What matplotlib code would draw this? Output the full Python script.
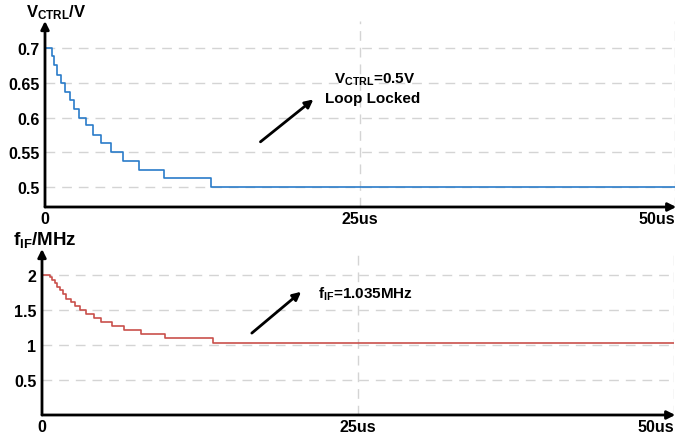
import numpy as np
import matplotlib.pyplot as plt

plt.rcParams['font.family'] = ['Liberation Sans', 'DejaVu Sans']
plt.rcParams['font.weight'] = 'bold'
plt.rcParams['mathtext.fontset'] = 'custom'
plt.rcParams['mathtext.rm'] = 'Liberation Sans:bold'
plt.rcParams['mathtext.bf'] = 'Liberation Sans:bold'

# V_CTRL staircase [us, V]
t_v = [0, 0.53, 0.71, 0.95, 1.27, 1.59, 1.96, 2.33, 2.72, 3.25, 3.84, 4.44,
       5.24, 6.19, 7.46, 9.44, 13.2, 50]
v_ctrl = [0.7, 0.6885, 0.675, 0.6615, 0.65, 0.637, 0.625, 0.612, 0.6, 0.5885,
          0.5755, 0.563, 0.55, 0.538, 0.525, 0.513, 0.5, 0.5]

# f_IF staircase [us, MHz]
t_f = [0, 0.61, 0.79, 1.0, 1.19, 1.40, 1.66, 1.93, 2.27, 2.59, 2.98, 3.51,
       4.12, 4.70, 5.54, 6.46, 7.86, 9.76, 13.56, 50]
f_if = [2.0, 1.967, 1.924, 1.886, 1.824, 1.781, 1.724, 1.662, 1.614, 1.557,
        1.495, 1.443, 1.386, 1.329, 1.267, 1.210, 1.157, 1.1, 1.035, 1.035]

xticks = [0, 25, 50]
xlabels = ['0', '25us', '50us']
v_ticks = [0.5, 0.55, 0.6, 0.65, 0.7]
v_labels = ['0.5', '0.55', '0.6', '0.65', '0.7']
f_ticks = [0.5, 1, 1.5, 2]
f_labels = ['0.5', '1', '1.5', '2']

W, H = 678, 439
fig = plt.figure(figsize=(W / 100, H / 100), dpi=100)


def px_axes(l, r, t, b):
    return fig.add_axes([l / W, (H - b) / H, (r - l) / W, (b - t) / H])


grid_kw = dict(color='#d4d4d4', lw=1.0, dashes=(7, 5))


def style(ax, yt, yl):
    for s in ax.spines.values():
        s.set_visible(False)
    ax.set_xticks(xticks)
    ax.set_xticklabels(xlabels)
    ax.get_xticklabels()[-1].set_horizontalalignment('right')
    ax.get_xticklabels()[-1].set_x(50.2)
    ax.set_yticks(yt)
    ax.set_yticklabels(yl)
    ax.tick_params(length=0, labelsize=11.5, pad=4)
    ax.tick_params(axis='x', pad=3)
    for y in yt:
        ax.axhline(y, zorder=0, **grid_kw)
    for x in [25, 50]:
        ax.axvline(x, zorder=0, **grid_kw)
    ax.annotate('', xy=(1.002, 0), xytext=(0, 0), xycoords='axes fraction',
                arrowprops=dict(arrowstyle='-|>', color='black', lw=2,
                                mutation_scale=12, shrinkA=0, shrinkB=0))
    ax.annotate('', xy=(0, 1), xytext=(0, 0), xycoords='axes fraction',
                arrowprops=dict(arrowstyle='-|>', color='black', lw=2,
                                mutation_scale=12, shrinkA=0, shrinkB=0))


# top panel
ax1 = px_axes(45, 675, 22, 208)
ax1.plot(t_v, v_ctrl, drawstyle='steps-post', color='#2a7cc9', lw=1.2)
ax1.set_xlim(0, 50)
ax1.set_ylim(0.5 - 20 / 695, 0.7 + 27 / 695)
style(ax1, v_ticks, v_labels)
ax1.text(0.017, 1.0, r'$\mathregular{V_{CTRL}}$/V', transform=ax1.transAxes,
         fontsize=12, ha='center', va='bottom')
ax1.annotate('', xy=(21.3, 0.626), xytext=(17.1, 0.565),
             arrowprops=dict(arrowstyle='-|>', color='black', lw=2,
                             mutation_scale=12, shrinkA=0, shrinkB=0))
ax1.text(26.2, 0.656, r'$\mathregular{V_{CTRL}}$=0.5V', fontsize=11, ha='center', va='center')
ax1.text(26.0, 0.628, 'Loop Locked', fontsize=11, ha='center', va='center')

# bottom panel
ax2 = px_axes(42, 674, 250, 416)
ax2.plot(t_f, f_if, drawstyle='steps-post', color='#c9504c', lw=1.2)
ax2.set_xlim(0, 50)
ax2.set_ylim(0, 2 + 26 / 70)
style(ax2, f_ticks, f_labels)
ax2.text(0.005, 1.0, r'$\mathregular{f_{IF}}$/MHz', transform=ax2.transAxes,
         fontsize=13.5, ha='center', va='bottom')
ax2.annotate('', xy=(20.5, 1.76), xytext=(16.6, 1.17),
             arrowprops=dict(arrowstyle='-|>', color='black', lw=2,
                             mutation_scale=12, shrinkA=0, shrinkB=0))
ax2.text(21.8, 1.74, r'$\mathregular{f_{IF}}$=1.035MHz', fontsize=11, ha='left', va='center')

fig.savefig('out.png', dpi=100)
